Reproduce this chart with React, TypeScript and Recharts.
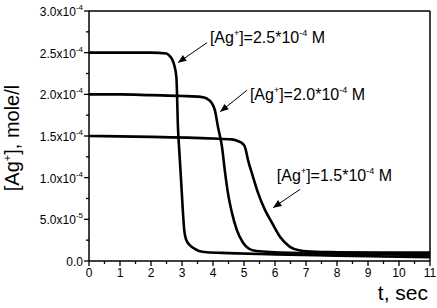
import { LineChart, Line, XAxis, YAxis, ReferenceLine, ReferenceDot, Label } from "recharts";

// concentrations are in units of 1e-4 M
const timeA = [0, 1, 2, 2.5, 2.6, 2.68, 2.75, 2.82, 2.87, 2.92, 2.97, 3.02, 3.07, 3.13, 3.25, 3.4, 3.55, 3.8, 4.5, 6, 8, 11];
const concA = [2.5, 2.5, 2.5, 2.49, 2.46, 2.42, 2.35, 2.2, 1.6, 1.28, 0.97, 0.65, 0.38, 0.26, 0.19, 0.15, 0.12, 0.105, 0.095, 0.08, 0.065, 0.045];

const timeB = [0, 1, 2, 3, 3.6, 3.8, 3.95, 4.06, 4.16, 4.29, 4.39, 4.48, 4.61, 4.77, 4.97, 5.15, 5.4, 6, 7, 9, 11];
const concB = [2.0, 2.0, 1.99, 1.98, 1.97, 1.95, 1.9, 1.81, 1.61, 1.37, 1.06, 0.82, 0.58, 0.37, 0.22, 0.15, 0.12, 0.105, 0.095, 0.085, 0.07];

const timeC = [0, 2, 4, 4.6, 4.8, 4.95, 5.03, 5.13, 5.29, 5.45, 5.68, 5.9, 6.16, 6.48, 6.81, 7.3, 8, 9.5, 11];
const concC = [1.5, 1.49, 1.47, 1.46, 1.44, 1.41, 1.37, 1.21, 1.01, 0.82, 0.61, 0.46, 0.29, 0.17, 0.125, 0.11, 0.105, 0.1, 0.1];

const xTicks = [0, 0.5, 1, 1.5, 2, 2.5, 3, 3.5, 4, 4.5, 5, 5.5, 6, 6.5, 7, 7.5, 8, 8.5, 9, 9.5, 10, 10.5, 11];
const yTicks = [0, 0.25, 0.5, 0.75, 1, 1.25, 1.5, 1.75, 2, 2.25, 2.5, 2.75, 3];
const yTickLabels: Record<string, [string, string]> = {
  "0": ["0.0", ""],
  "0.5": ["5.0x10", "-5"],
  "1": ["1.0x10", "-4"],
  "1.5": ["1.5x10", "-4"],
  "2": ["2.0x10", "-4"],
  "2.5": ["2.5x10", "-4"],
  "3": ["3.0x10", "-4"],
};

// curve labels: concentration text, label anchor (t, c), arrow tail and head (t, c)
const labelNames = ["2.5", "2.0", "1.5"];
const labelAt = [[3.9, 2.62], [5.19, 1.93], [6.06, 0.96]];
const arrowFrom = [[3.81, 2.62], [5.1, 2.05], [6.81, 0.86]];
const arrowTo = [[2.87, 2.38], [4.23, 1.79], [5.94, 0.64]];

const toPoints = (t: number[], c: number[]) => t.map((v, i) => ({ t: v, c: c[i] }));
const seriesA = toPoints(timeA, concA);
const seriesB = toPoints(timeB, concB);
const seriesC = toPoints(timeC, concC);

const FONT = "Arial, 'Liberation Sans', sans-serif";

const XTick = (props: any) => {
  const { x, y, payload } = props;
  const major = Number.isInteger(payload.value);
  return (
    <g>
      <line x1={x} x2={x} y1={y} y2={y + (major ? 5 : 3)} stroke="#000" strokeWidth={1.3} />
      {major && (
        <text x={x} y={y + 16} textAnchor="middle" fontSize={12} fontFamily={FONT} fill="#000">
          {payload.value}
        </text>
      )}
    </g>
  );
};

const YTick = (props: any) => {
  const { x, y, payload } = props;
  const lab = yTickLabels[String(payload.value)];
  return (
    <g>
      <line x1={x - (lab ? 5 : 3)} x2={x} y1={y} y2={y} stroke="#000" strokeWidth={1.3} />
      {lab && (
        <text x={x - 6} y={y + 5} textAnchor="end" fontSize={12} fontFamily={FONT} fill="#000">
          {lab[0]}
          {lab[1] && (
            <tspan dy={-6} fontSize={8}>
              {lab[1]}
            </tspan>
          )}
        </text>
      )}
    </g>
  );
};

const Arrow = (props: any) => {
  const { x1, y1, x2, y2 } = props;
  const a = Math.atan2(y2 - y1, x2 - x1);
  const len = 9;
  const w = 0.4;
  const p1 = [x2 - len * Math.cos(a - w), y2 - len * Math.sin(a - w)];
  const p2 = [x2 - len * Math.cos(a + w), y2 - len * Math.sin(a + w)];
  return (
    <g>
      <line x1={x1} y1={y1} x2={x2} y2={y2} stroke="#000" strokeWidth={1} />
      <polygon points={`${x2},${y2} ${p1[0]},${p1[1]} ${p2[0]},${p2[1]}`} fill="#000" />
    </g>
  );
};

const CurveLabel = (name: string) => (props: any) => (
  <text x={props.cx} y={props.cy} fontSize={16} fontFamily={FONT} fill="#000">
    [Ag
    <tspan dy={-7} fontSize={9}>+</tspan>
    <tspan dy={7}>]={name}*10</tspan>
    <tspan dy={-7} fontSize={9}>-4</tspan>
    <tspan dy={7}> M</tspan>
  </text>
);

export default function App() {
  return (
    <div style={{ position: "absolute", left: 0, top: 0, background: "#fff" }}>
      <LineChart width={437} height={308} margin={{ top: 11, right: 7, left: 0, bottom: 0 }}>
        <XAxis
          dataKey="t"
          type="number"
          domain={[0, 11]}
          ticks={xTicks}
          interval={0}
          height={47}
          tickSize={0}
          tickMargin={0}
          tickLine={false}
          tick={<XTick />}
          axisLine={{ stroke: "#000", strokeWidth: 1.5 }}
          allowDataOverflow
        >
          <Label
            content={(p: any) => {
              const vb = p.viewBox;
              return (
                <text
                  x={vb.x + vb.width - 2}
                  y={vb.y + 39}
                  textAnchor="end"
                  fontSize={21}
                  fontFamily={FONT}
                  fill="#000"
                >
                  t, sec
                </text>
              );
            }}
          />
        </XAxis>
        <YAxis
          type="number"
          domain={[0, 3]}
          ticks={yTicks}
          interval={0}
          width={89}
          tickSize={0}
          tickMargin={0}
          tickLine={false}
          tick={<YTick />}
          axisLine={{ stroke: "#000", strokeWidth: 1.5 }}
          allowDataOverflow
        >
          <Label
            content={(p: any) => {
              const vb = p.viewBox;
              const cx = 19;
              const cy = vb.y + vb.height / 2 + 2;
              return (
                <text
                  x={cx}
                  y={cy}
                  transform={`rotate(-90 ${cx} ${cy})`}
                  textAnchor="middle"
                  fontSize={20}
                  fontFamily={FONT}
                  fill="#000"
                >
                  [Ag
                  <tspan dy={-8} fontSize={11}>+</tspan>
                  <tspan dy={8}>], mole/l</tspan>
                </text>
              );
            }}
          />
        </YAxis>
        <ReferenceLine y={3} stroke="#000" strokeWidth={1.5} />
        <ReferenceLine x={11} stroke="#000" strokeWidth={1.5} />
        <Line data={seriesA} dataKey="c" type="monotone" stroke="#000" strokeWidth={2.6} dot={false} isAnimationActive={false} />
        <Line data={seriesB} dataKey="c" type="monotone" stroke="#000" strokeWidth={2.6} dot={false} isAnimationActive={false} />
        <Line data={seriesC} dataKey="c" type="monotone" stroke="#000" strokeWidth={2.6} dot={false} isAnimationActive={false} />
        {labelNames.map((n, i) => (
          <ReferenceLine
            key={"a" + i}
            segment={[
              { x: arrowFrom[i][0], y: arrowFrom[i][1] },
              { x: arrowTo[i][0], y: arrowTo[i][1] },
            ]}
            shape={<Arrow />}
          />
        ))}
        {labelNames.map((n, i) => (
          <ReferenceDot key={"l" + i} x={labelAt[i][0]} y={labelAt[i][1]} r={0} shape={CurveLabel(n)} />
        ))}
      </LineChart>
    </div>
  );
}
